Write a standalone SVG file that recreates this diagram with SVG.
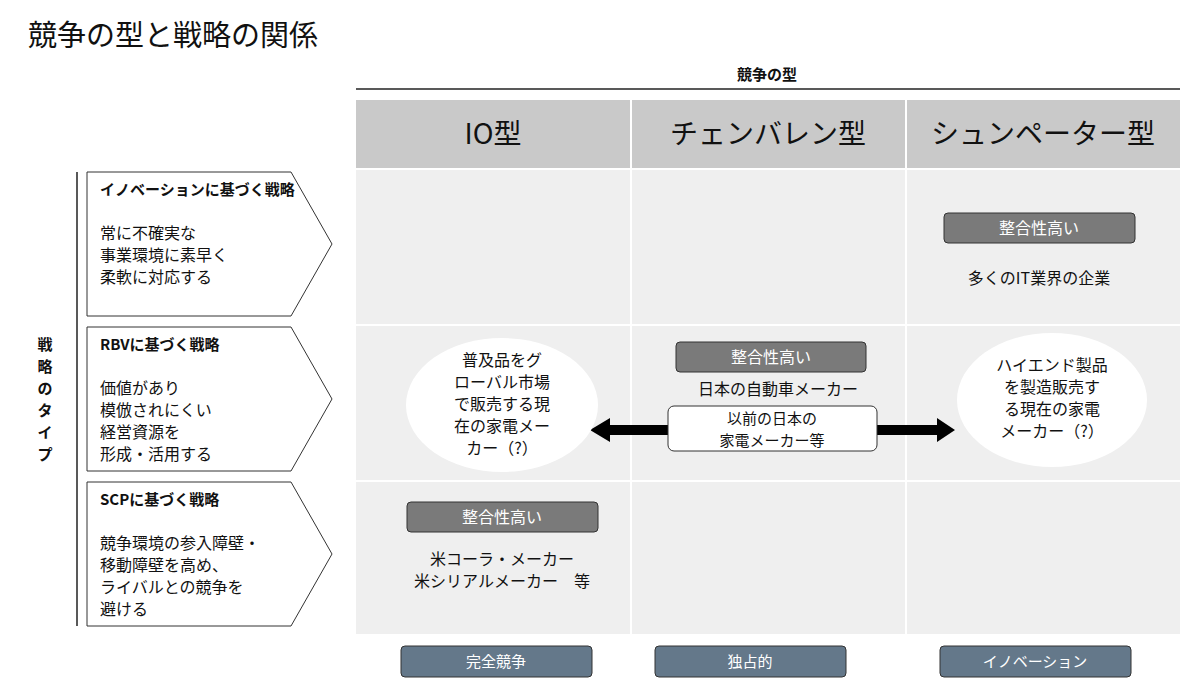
<svg xmlns="http://www.w3.org/2000/svg" width="1200" height="683" viewBox="0 0 1200 683">
<style>
text{font-family:"Noto Sans CJK JP","Noto Sans",sans-serif;fill:#111}
.hd{fill:#c9c9c9}.cell{fill:#efefef}
.pent{fill:#fff;stroke:#333;stroke-width:1}
.tag{fill:#7a7a7a;stroke:#333;stroke-width:1}
.tagt{fill:#fff;font-size:16px}
.btn{fill:#64788a;stroke:#333;stroke-width:1}
.btnt{fill:#fff;font-size:15px}
.b{font-weight:bold;font-size:15px}
.t{font-size:16px}
.s{font-size:15px}
.c{text-anchor:middle}
</style>
<rect width="1200" height="683" fill="#fff"/>
<text x="28" y="46" style="font-size:29px">競争の型と戦略の関係</text>
<text x="767" y="80" class="b c">競争の型</text>
<line x1="356" y1="89" x2="1180" y2="89" stroke="#222" stroke-width="1.5"/>
<g id="headers">
<rect class="hd" x="356" y="100" width="274" height="68"/>
<rect class="hd" x="632" y="100" width="273" height="68"/>
<rect class="hd" x="907" y="100" width="273" height="68"/>
<text x="493" y="144" class="c" style="font-size:28px">IO型</text>
<text x="768" y="144" class="c" style="font-size:28px">チェンバレン型</text>
<text x="1043" y="144" class="c" style="font-size:28px">シュンペーター型</text>
</g>
<g id="cells">
<rect class="cell" x="356" y="170" width="274" height="154"/><rect class="cell" x="632" y="170" width="273" height="154"/><rect class="cell" x="907" y="170" width="273" height="154"/>
<rect class="cell" x="356" y="326" width="274" height="154"/><rect class="cell" x="632" y="326" width="273" height="154"/><rect class="cell" x="907" y="326" width="273" height="154"/>
<rect class="cell" x="356" y="482" width="274" height="152"/><rect class="cell" x="632" y="482" width="273" height="152"/><rect class="cell" x="907" y="482" width="273" height="152"/>
</g>
<g id="axis">
<line x1="77" y1="172" x2="77" y2="626" stroke="#222" stroke-width="1.5"/>
<text x="45" y="350" class="b c"><tspan x="45">戦</tspan><tspan x="45" dy="22">略</tspan><tspan x="45" dy="22">の</tspan><tspan x="45" dy="22">タ</tspan><tspan x="45" dy="22">イ</tspan><tspan x="45" dy="22">プ</tspan></text>
</g>
<g id="strat-innovation">
<polygon class="pent" points="87,172 291,172 332,244 291,316 87,316"/>
<text x="100" y="195" class="b">イノベーションに基づく戦略</text>
<text class="t"><tspan x="100" y="239">常に不確実な</tspan><tspan x="100" y="261">事業環境に素早く</tspan><tspan x="100" y="283">柔軟に対応する</tspan></text>
</g>
<g id="strat-rbv">
<polygon class="pent" points="87,327 291,327 332,399 291,471 87,471"/>
<text x="100" y="350" class="b">RBVに基づく戦略</text>
<text class="t"><tspan x="100" y="394">価値があり</tspan><tspan x="100" y="416">模倣されにくい</tspan><tspan x="100" y="438">経営資源を</tspan><tspan x="100" y="460">形成・活用する</tspan></text>
</g>
<g id="strat-scp">
<polygon class="pent" points="87,482 291,482 332,554 291,626 87,626"/>
<text x="100" y="505" class="b">SCPに基づく戦略</text>
<text class="t"><tspan x="100" y="549">競争環境の参入障壁・</tspan><tspan x="100" y="571">移動障壁を高め、</tspan><tspan x="100" y="593">ライバルとの競争を</tspan><tspan x="100" y="615">避ける</tspan></text>
</g>
<g id="connectors">
<polygon points="668,425 610,425 610,418 590,430 610,442 610,435 668,435" fill="#000"/>
<polygon points="877,425 937,425 937,418 955,430 937,442 937,435 877,435" fill="#000"/>
</g>
<g id="schum-innov">
<rect class="tag" x="944" y="213" width="191" height="30" rx="4"/>
<text x="1039" y="234" class="tagt c">整合性高い</text>
<text x="1039" y="284" class="t c">多くのIT業界の企業</text>
</g>
<g id="io-rbv">
<ellipse cx="502" cy="405" rx="96" ry="67" fill="#fff"/>
<text class="t c"><tspan x="502" y="366">普及品をグ</tspan><tspan x="502" y="388">ローバル市場</tspan><tspan x="502" y="410">で販売する現</tspan><tspan x="502" y="432">在の家電メー</tspan><tspan x="502" y="454">カー（?）</tspan></text>
</g>
<g id="chamb-rbv">
<rect class="tag" x="676" y="342" width="190" height="30" rx="4"/>
<text x="771" y="363" class="tagt c">整合性高い</text>
<text x="778" y="395" class="t c">日本の自動車メーカー</text>
<rect x="668" y="406" width="209" height="45" rx="6" fill="#fff" stroke="#333"/>
<text x="772" y="424" class="s c">以前の日本の</text>
<text x="772" y="446" class="s c">家電メーカー等</text>
</g>
<g id="schum-rbv">
<ellipse cx="1052" cy="400" rx="95" ry="67" fill="#fff"/>
<text class="t c"><tspan x="1052" y="371">ハイエンド製品</tspan><tspan x="1052" y="393">を製造販売す</tspan><tspan x="1052" y="415">る現在の家電</tspan><tspan x="1052" y="437">メーカー（?）</tspan></text>
</g>
<g id="io-scp">
<rect class="tag" x="407" y="502" width="191" height="30" rx="4"/>
<text x="502" y="523" class="tagt c">整合性高い</text>
<text class="t c"><tspan x="502" y="565">米コーラ・メーカー</tspan><tspan x="502" y="587">米シリアルメーカー　等</tspan></text>
</g>
<g id="bottom">
<rect class="btn" x="401" y="646" width="191" height="31" rx="4"/><text x="496" y="667" class="btnt c">完全競争</text>
<rect class="btn" x="655" y="646" width="191" height="31" rx="4"/><text x="750" y="667" class="btnt c">独占的</text>
<rect class="btn" x="940" y="646" width="191" height="31" rx="4"/><text x="1035" y="667" class="btnt c">イノベーション</text>
</g>
</svg>
